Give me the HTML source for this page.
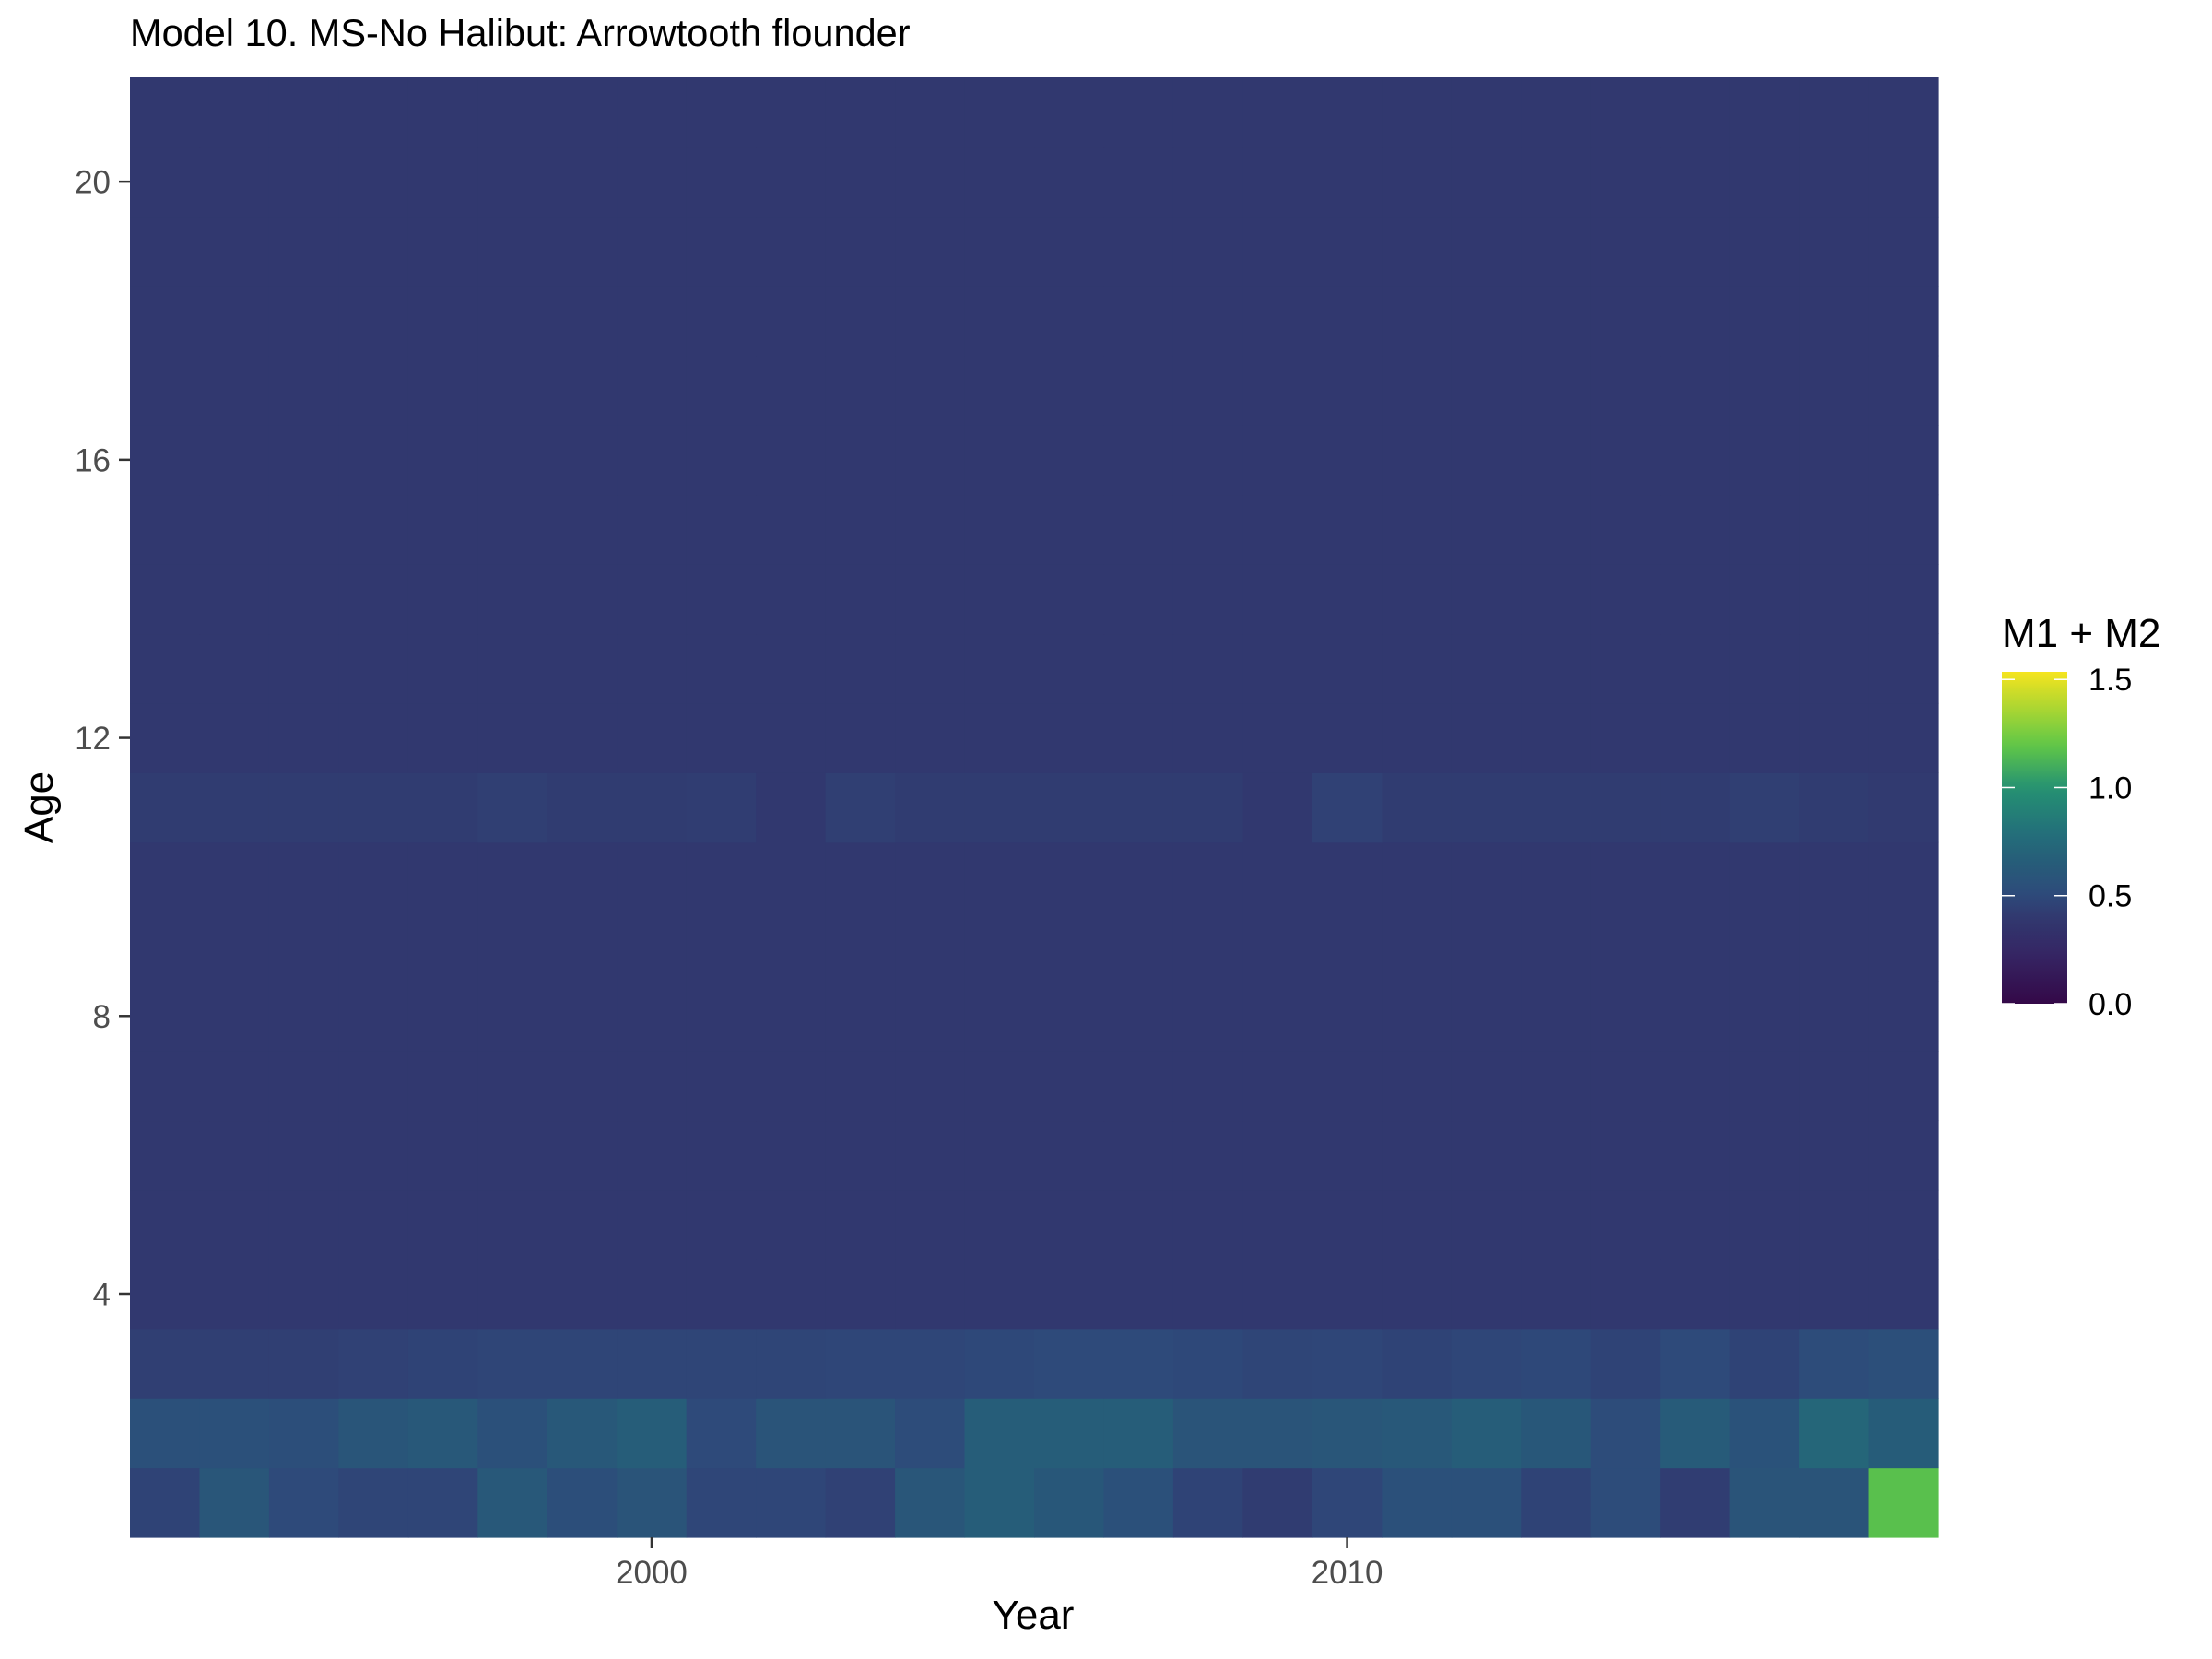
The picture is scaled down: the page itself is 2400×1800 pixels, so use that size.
<!DOCTYPE html>
<html><head><meta charset="utf-8"><style>
html,body{margin:0;padding:0;background:#fff;}
svg{display:block;font-family:"Liberation Sans",Arial,sans-serif;}
</style></head><body>
<svg id="chart" width="2400" height="1800" viewBox="0 0 2400 1800">
<defs><linearGradient id="lg" x1="0" y1="1" x2="0" y2="0"></linearGradient></defs>
<text x="141" y="50" font-size="41.5" fill="#000">Model 10. MS-No Halibut: Arrowtooth flounder</text>
<g id="cells"></g>
<g id="axes"></g>
<text x="1121" y="1767" font-size="44" text-anchor="middle" fill="#000">Year</text>
<text transform="translate(57,876) rotate(-90)" font-size="44" text-anchor="middle" fill="#000">Age</text>
<g id="legend">
<text x="2172" y="702" font-size="44" fill="#000">M1 + M2</text>
</g>
</svg>
<script>
const years = [1993,1994,1995,1996,1997,1998,1999,2000,2001,2002,2003,2004,2005,2006,2007,2008,2009,2010,2011,2012,2013,2014,2015,2016,2017,2018];
const ages = [1,2,3,4,5,6,7,8,9,10,11,12,13,14,15,16,17,18,19,20,21];
const age1 = [0.46,0.60,0.50,0.47,0.47,0.62,0.53,0.58,0.48,0.48,0.45,0.60,0.66,0.61,0.55,0.46,0.42,0.48,0.55,0.55,0.46,0.52,0.43,0.58,0.58,1.17];
const age2 = [0.55,0.55,0.53,0.59,0.62,0.55,0.62,0.66,0.50,0.58,0.58,0.52,0.66,0.66,0.66,0.58,0.58,0.60,0.62,0.66,0.61,0.52,0.64,0.57,0.72,0.65];
const age3 = [0.44,0.44,0.44,0.45,0.46,0.47,0.47,0.47,0.47,0.47,0.48,0.48,0.49,0.50,0.50,0.49,0.47,0.48,0.46,0.48,0.49,0.46,0.50,0.46,0.52,0.54];
const age11 = [0.42,0.42,0.42,0.42,0.42,0.44,0.42,0.42,0.43,0.40,0.44,0.42,0.42,0.42,0.42,0.42,0.40,0.45,0.42,0.42,0.42,0.42,0.42,0.44,0.42,0.41];
const baseValue = 0.40;
const xTicks = [2000,2010];
const yTicks = [4,8,12,16,20];
const legendTicks = [0.0,0.5,1.0,1.5];
const legendLabels = ["0.0","0.5","1.0","1.5"];

const NS="http://www.w3.org/2000/svg";
const P={l:141,r:2103,t:84,b:1668};
const xMin=1992.5,xMax=2018.5,yMin=0.5,yMax=21.5;
function xs(v){return P.l+(v-xMin)/(xMax-xMin)*(P.r-P.l);}
function ys(v){return P.b-(v-yMin)/(yMax-yMin)*(P.b-P.t);}
const LB={top:729,bottom:1089,max:1.535};
function ly(v){return LB.bottom-v/LB.max*(LB.bottom-LB.top);}
const stops=[[0,[52,8,72]],[0.25,[53,40,102]],[0.4,[49,56,111]],[0.5,[46,74,122]],[0.65,[38,92,121]],[0.8,[35,113,122]],[1.0,[37,146,114]],[1.2,[98,200,70]],[1.535,[245,228,30]]];
function col(v){
  if(v<=stops[0][0])return rgb(stops[0][1]);
  for(let i=1;i<stops.length;i++){if(v<=stops[i][0]){const a=stops[i-1],b=stops[i];const t=(v-a[0])/(b[0]-a[0]);return rgb(a[1].map((c,k)=>c+(b[1][k]-c)*t));}}
  return rgb(stops[stops.length-1][1]);
}
function rgb(c){return "rgb("+c.map(Math.round).join(",")+")";}
function mk(tag,attrs,parent){const e=document.createElementNS(NS,tag);for(const k in attrs)e.setAttribute(k,attrs[k]);parent.appendChild(e);return e;}
function valueAt(ai,yi){const a=ages[ai];if(a===1)return age1[yi];if(a===2)return age2[yi];if(a===3)return age3[yi];if(a===11)return age11[yi];return baseValue;}
const cells=document.getElementById('cells');
for(let ai=0;ai<ages.length;ai++){for(let yi=0;yi<years.length;yi++){
  const v=valueAt(ai,yi);
  const x0=xs(years[yi]-0.5),x1=xs(years[yi]+0.5),y0=ys(ages[ai]+0.5),y1=ys(ages[ai]-0.5);
  const r=mk('rect',{x:x0,y:y0,width:x1-x0+0.6,height:y1-y0+0.6,fill:col(v)},cells);
  
  
}}
const axes=document.getElementById('axes');
xTicks.forEach(t=>{
  const l=mk('line',{x1:xs(t),x2:xs(t),y1:P.b,y2:P.b+12,stroke:'#333','stroke-width':2.5},axes);
  
  
  const tx=mk('text',{x:xs(t),y:1718,'font-size':35,'text-anchor':'middle',fill:'#4d4d4d'},axes);
  tx.textContent=t;
  
  
});
yTicks.forEach(t=>{
  const l=mk('line',{x1:P.l-12,x2:P.l,y1:ys(t),y2:ys(t),stroke:'#333','stroke-width':2.5},axes);
  
  
  const tx=mk('text',{x:120,y:ys(t)+12.5,'font-size':35,'text-anchor':'end',fill:'#4d4d4d'},axes);
  tx.textContent=t;
  
  
});
const lg=document.getElementById('lg');
for(let i=0;i<=30;i++){const v=LB.max*i/30;mk('stop',{offset:(i/30),'stop-color':col(v)},lg);}
const legend=document.getElementById('legend');
const bar=mk('rect',{x:2172,y:LB.top,width:71,height:LB.bottom-LB.top,fill:'url(#lg)'},legend);


legendTicks.forEach((t,i)=>{
  const y=ly(t);
  mk('line',{x1:2172,x2:2186,y1:y,y2:y,stroke:'#fff','stroke-width':1.5},legend);
  mk('line',{x1:2229,x2:2243,y1:y,y2:y,stroke:'#fff','stroke-width':1.5},legend);
  const tx=mk('text',{x:2266,y:y+12,'font-size':34,fill:'#000'},legend);
  tx.textContent=legendLabels[i];
  
  
});
</script>
</body></html>
